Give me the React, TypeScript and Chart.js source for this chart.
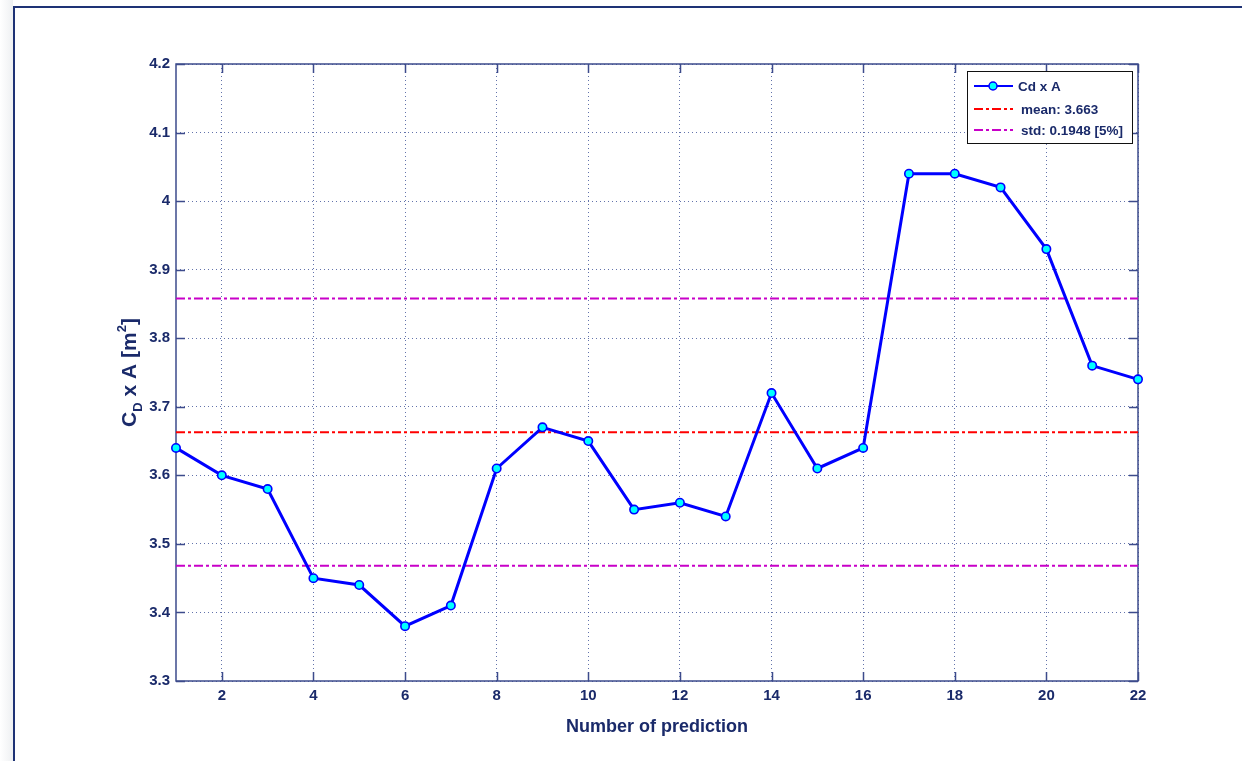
import React, { useEffect, useRef } from "react";
import { Chart, registerables } from "chart.js";

Chart.register(...registerables);

// Prediction index and the drag-area value for each run
const predictions = [1, 2, 3, 4, 5, 6, 7, 8, 9, 10, 11, 12, 13, 14, 15, 16, 17, 18, 19, 20, 21, 22];
const cdA = [3.64, 3.6, 3.58, 3.45, 3.44, 3.38, 3.41, 3.61, 3.67, 3.65, 3.55, 3.56, 3.54, 3.72, 3.61, 3.64, 4.04, 4.04, 4.02, 3.93, 3.76, 3.74];
const MEAN = 3.663;
const STD = 0.1948;
const xTickValues = [2, 4, 6, 8, 10, 12, 14, 16, 18, 20, 22];
const yTickValues = [3.3, 3.4, 3.5, 3.6, 3.7, 3.8, 3.9, 4.0, 4.1, 4.2];
const legendLabels = ["Cd x A", "mean: 3.663", "std: 0.1948 [5%]"];

const NAVY = "#1a2a6a";
const FRAME = "#3d4b8c";
const FONT = "'Liberation Sans', Arial, Helvetica, sans-serif";

const decorations = {
  id: "matlabDecor",
  beforeDatasetsDraw(chart: any) {
    const { ctx, chartArea: a, scales } = chart;
    ctx.save();
    ctx.strokeStyle = FRAME;
    ctx.lineWidth = 1.5;
    ctx.setLineDash([]);
    ctx.strokeRect(a.left, a.top, a.right - a.left, a.bottom - a.top);
    const tl = 9;
    ctx.beginPath();
    for (const v of yTickValues) {
      const y = Math.round(scales.y.getPixelForValue(v)) + 0.5;
      ctx.moveTo(a.left, y);
      ctx.lineTo(a.left + tl, y);
      ctx.moveTo(a.right, y);
      ctx.lineTo(a.right - tl, y);
    }
    for (const v of xTickValues) {
      const x = Math.round(scales.x.getPixelForValue(v)) + 0.5;
      ctx.moveTo(x, a.bottom);
      ctx.lineTo(x, a.bottom - tl);
      ctx.moveTo(x, a.top);
      ctx.lineTo(x, a.top + tl);
    }
    ctx.stroke();
    ctx.restore();
  },
  afterDraw(chart: any) {
    const { ctx, chartArea: a } = chart;
    ctx.save();
    ctx.fillStyle = NAVY;

    // x-axis title
    ctx.font = `bold 18px ${FONT}`;
    ctx.textAlign = "center";
    ctx.textBaseline = "middle";
    ctx.fillText("Number of prediction", (a.left + a.right) / 2, 727);

    // y-axis title with subscript and superscript
    const parts: [string, number, number][] = [
      ["C", 21, 0],
      ["D", 13, 6],
      [" x A [m", 21, 0],
      ["2", 13, -10],
      ["]", 21, 0],
    ];
    let total = 0;
    for (const [t, s] of parts) {
      ctx.font = `bold ${s}px ${FONT}`;
      total += ctx.measureText(t).width;
    }
    ctx.translate(136, (a.top + a.bottom) / 2);
    ctx.rotate(-Math.PI / 2);
    ctx.textAlign = "left";
    ctx.textBaseline = "alphabetic";
    let x = -total / 2;
    for (const [t, s, dy] of parts) {
      ctx.font = `bold ${s}px ${FONT}`;
      ctx.fillText(t, x, dy);
      x += ctx.measureText(t).width;
    }
    ctx.restore();

    // legend box inside the plot
    ctx.save();
    const bx = 967, by = 71, bw = 165, bh = 72;
    ctx.fillStyle = "#ffffff";
    ctx.fillRect(bx, by, bw, bh);
    ctx.strokeStyle = "#111111";
    ctx.lineWidth = 1;
    ctx.strokeRect(bx + 0.5, by + 0.5, bw, bh);
    const rows = [86, 109, 130];
    const ds = chart.data.datasets;
    const items = [ds[0], ds[1], ds[2]];
    items.forEach((d: any, i: number) => {
      const y = rows[i];
      ctx.beginPath();
      ctx.strokeStyle = d.borderColor;
      ctx.lineWidth = 2;
      ctx.setLineDash(d.borderDash || []);
      ctx.moveTo(974, y);
      ctx.lineTo(1013, y);
      ctx.stroke();
      ctx.setLineDash([]);
      if (i === 0) {
        ctx.beginPath();
        ctx.arc(993, y, 4, 0, Math.PI * 2);
        ctx.fillStyle = "#00ffff";
        ctx.fill();
        ctx.lineWidth = 1.5;
        ctx.strokeStyle = "#0000ff";
        ctx.stroke();
      }
      ctx.fillStyle = NAVY;
      ctx.font = `bold 13.5px ${FONT}`;
      ctx.textAlign = "left";
      ctx.textBaseline = "middle";
      ctx.fillText(legendLabels[i], i === 0 ? 1018 : 1021, y + 1);
    });
    ctx.restore();
  },
};

export default function App() {
  const ref = useRef<HTMLCanvasElement | null>(null);

  useEffect(() => {
    if (!ref.current) return;
    const pts = predictions.map((p, i) => ({ x: p, y: cdA[i] }));
    const first = predictions[0];
    const last = predictions[predictions.length - 1];
    const flat = (v: number) => [
      { x: first, y: v },
      { x: last, y: v },
    ];
    const dashDot = [9, 3, 3, 3];

    const chart = new Chart(ref.current, {
      type: "line",
      data: {
        datasets: [
          {
            label: legendLabels[0],
            data: pts,
            borderColor: "#0000ff",
            borderWidth: 3,
            pointRadius: 4.2,
            pointBackgroundColor: "#00ffff",
            pointBorderColor: "#0000ff",
            pointBorderWidth: 1.6,
            tension: 0,
            clip: false as any,
            order: 0,
          },
          {
            label: legendLabels[1],
            data: flat(MEAN),
            borderColor: "#ff0000",
            borderWidth: 2,
            borderDash: dashDot,
            pointRadius: 0,
            order: 1,
          },
          {
            label: legendLabels[2],
            data: flat(MEAN + STD),
            borderColor: "#c800c8",
            borderWidth: 2,
            borderDash: dashDot,
            pointRadius: 0,
            order: 2,
          },
          {
            label: "",
            data: flat(MEAN - STD),
            borderColor: "#c800c8",
            borderWidth: 2,
            borderDash: dashDot,
            pointRadius: 0,
            order: 3,
          },
        ],
      },
      options: {
        animation: false,
        responsive: false,
        maintainAspectRatio: false,
        parsing: false as any,
        layout: { padding: { left: 0, top: 64, right: 104, bottom: 0 } },
        plugins: { legend: { display: false }, tooltip: { enabled: false } },
        scales: {
          x: {
            type: "linear",
            min: 1,
            max: 22,
            afterBuildTicks: (s: any) => {
              s.ticks = xTickValues.map((v) => ({ value: v }));
            },
            afterFit: (s: any) => {
              s.height = 80;
            },
            ticks: {
              color: NAVY,
              font: { family: FONT, weight: "bold", size: 15 },
              padding: 6,
              maxRotation: 0,
              autoSkip: false,
            },
            grid: { color: "rgba(60,80,150,0.8)", lineWidth: 1, drawTicks: false },
            border: { display: false, dash: [1, 3] },
          },
          y: {
            type: "linear",
            min: 3.3,
            max: 4.2,
            afterBuildTicks: (s: any) => {
              s.ticks = yTickValues.map((v) => ({ value: v }));
            },
            afterFit: (s: any) => {
              s.width = 176;
            },
            ticks: {
              color: NAVY,
              font: { family: FONT, weight: "bold", size: 15 },
              padding: 6,
              autoSkip: false,
              callback: (v: any) => String(parseFloat(Number(v).toFixed(2))),
            },
            grid: { color: "rgba(60,80,150,0.8)", lineWidth: 1, drawTicks: false },
            border: { display: false, dash: [1, 3] },
          },
        },
      },
      plugins: [decorations],
    });
    return () => chart.destroy();
  }, []);

  return (
    <div
      style={{
        position: "fixed",
        left: 0,
        top: 0,
        width: 1242,
        height: 761,
        background: "#ffffff",
        overflow: "hidden",
      }}
    >
      <div
        style={{
          position: "absolute",
          left: 0,
          top: 0,
          width: 13,
          height: 761,
          background: "linear-gradient(to right, #ffffff, #eef0f2)",
        }}
      />
      <div
        style={{
          position: "absolute",
          left: 13,
          top: 6,
          width: 1400,
          height: 900,
          borderLeft: "2px solid #1e3275",
          borderTop: "2px solid #1e3275",
        }}
      />
      <canvas
        ref={ref}
        width={1242}
        height={761}
        style={{ position: "absolute", left: 0, top: 0, width: 1242, height: 761 }}
      />
    </div>
  );
}
